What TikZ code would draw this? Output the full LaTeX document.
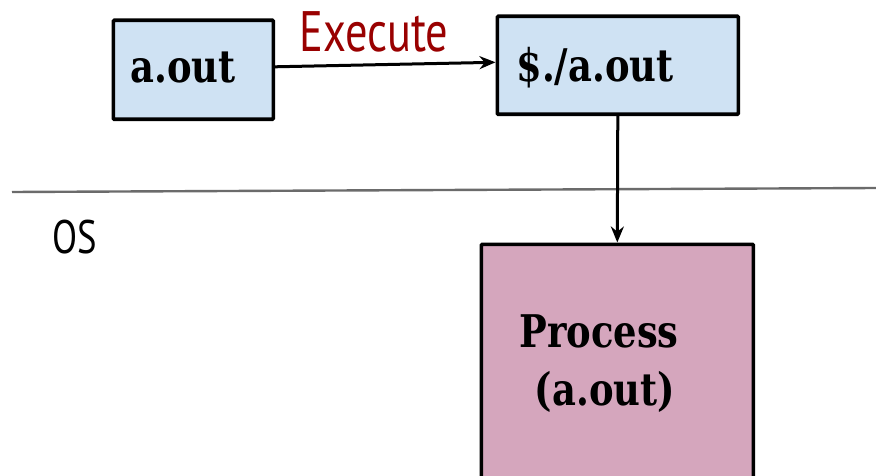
\documentclass[tikz,border=0pt]{standalone}
\usepackage{fontspec}
\usetikzlibrary{arrows.meta}
\newfontfamily\boxfont[FakeStretch=0.82]{DejaVu Serif}
\newfontfamily\labelfont[FakeStretch=0.78]{PT Sans}
\definecolor{boxblue}{HTML}{CFE2F3}
\definecolor{procpink}{HTML}{D5A6BD}
\definecolor{execred}{HTML}{990000}
\definecolor{divider}{HTML}{6B6B6B}

\begin{document}
\begin{tikzpicture}[x=1pt,y=-1pt,
  box/.style={draw=black, line width=3.6pt, rounded corners=1pt, inner sep=0pt, anchor=north west},
  flow/.style={-{Stealth[length=16pt,width=13pt]}, line width=3pt},
  boxtext/.style={font=\boxfont\bfseries\fontsize{45}{54}\selectfont, inner sep=0pt, anchor=base},
  labeltext/.style={font=\labelfont, inner sep=0pt, anchor=base},
]
\useasboundingbox (0,0) rectangle (876,476);

% boxes
\node[box, fill=boxblue, minimum width=160pt, minimum height=99pt] (aout) at (111.5,18.5) {};
\node[box, fill=boxblue, minimum width=241pt, minimum height=98pt] (run) at (495.5,14.5) {};
\node[box, fill=procpink, minimum width=272pt, minimum height=270pt] (proc) at (479.5,242.5) {};

% texts inside the boxes
\node[boxtext] (aoutlabel) at (183,83) {a.out};
\node[boxtext] (runlabel) at (595,82) {\$./a.out};
\node[boxtext] (proclabel) at (599,347) {Process};
\node[boxtext] (proclabel2) at (605,405) {(a.out)};

% user / OS divider
\draw[divider, line width=2.4pt] (12,192) -- (876,188);
\node[labeltext, font=\labelfont\fontsize{47}{56}\selectfont] (oslabel) at (75,253) {OS};

% connectors
\draw[flow] ([yshift=3pt]aout.east) -- ([yshift=3pt]run.west);
\node[labeltext, text=execred, font=\labelfont\fontsize{57}{66}\selectfont] (execlabel) at (374,52) {Execute};
\draw[flow] (run.south) -- (proc.north);
\end{tikzpicture}
\end{document}
